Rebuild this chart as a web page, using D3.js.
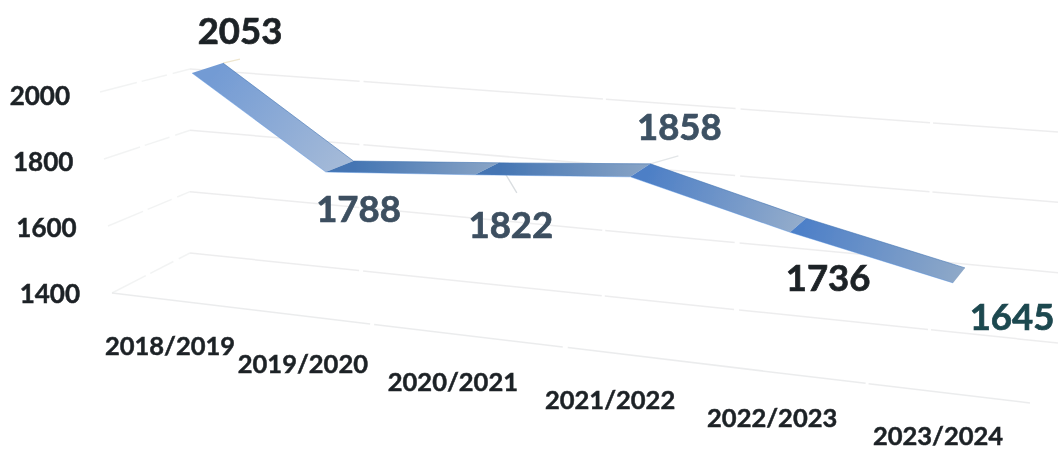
<!DOCTYPE html>
<html>
<head>
<meta charset="utf-8">
<script src="https://cdnjs.cloudflare.com/ajax/libs/d3/7.8.5/d3.min.js"></script>
<style>
html,body{margin:0;padding:0;background:#fff;overflow:hidden}
svg{display:block}
text{font-family:Lato,"Open Sans",sans-serif;font-weight:700}
</style>
</head>
<body>
<svg id="chart" width="1058" height="452"></svg>
<script>
const categories = ["2018/2019","2019/2020","2020/2021","2021/2022","2022/2023","2023/2024"];
const values = [2053,1788,1822,1858,1736,1645];
const yTicks = [1400,1600,1800,2000];
const valueColors = ["#1f2327","#3c4f60","#3c4f60","#3d5163","#1f2327","#1f4850"];

const svg = d3.select("#chart");
const defs = svg.append("defs");
defs.append("filter").attr("id","soft").append("feGaussianBlur").attr("stdDeviation",0.5);
defs.append("filter").attr("id","softText").append("feGaussianBlur").attr("stdDeviation",0.3);

const idx = d3.range(categories.length);
const vDomain = [1400,2000];

// Back wall: value -> y at the left and right ends of the receding plane
const wallX = [190,1058];
const wallLeftY = d3.scaleLinear().domain(vDomain).range([253,69]);
const wallRightY = d3.scaleLinear().domain(vDomain).range([343,132]);
const wallT = d3.scaleLinear().domain(wallX).range([0,1]);
const wallY = (x,v) => d3.interpolateNumber(wallLeftY(v),wallRightY(v))(wallT(x));

// Front of the floor and left side wall
const sideY = d3.scaleLinear().domain(vDomain).range([293,92]);
const sideX = d3.scaleLinear().domain(vDomain).range([112,100]);

// Ribbon edges: perspective spacing along the category axis
const ribbonBackX = d3.scalePow().exponent(1.08).domain([0,5]).range([223,965]);
const ribbonFrontX = d3.scalePow().exponent(1.08).domain([0,5]).range([192,953]);
const backLift = d3.scaleLinear().domain([223,357,802,965]).range([8,13.5,15,19.5]);
const depthDrop = d3.scaleLinear().domain([0,5]).range([10,15]);
const back = i => { const x = ribbonBackX(i); return [x, wallY(x,values[i]) + backLift(x)]; };
const front = i => { const b = back(i); return [ribbonFrontX(i), b[1] + depthDrop(i)]; };

const line = d3.line();

// Grid
const grid = svg.append("g").attr("fill","none").attr("stroke","#e8e9ea").attr("stroke-width",1.5);
yTicks.forEach(v => {
  grid.append("path").attr("stroke-opacity",0.8).attr("stroke-dasharray","170 4 240 3 130 5 190 3")
    .attr("d", line([[wallX[0],wallLeftY(v)],[wallX[1],wallRightY(v)]]));
  grid.append("path").attr("stroke-opacity",0.55).attr("stroke-dasharray","38 5 26 6")
    .attr("d", line([[sideX(v),sideY(v)],[wallX[0],wallLeftY(v)]]));
});
grid.append("path").attr("stroke-opacity",0.85).attr("stroke-dasharray","260 4 190 5 300 3")
  .attr("d", line([[sideX(1400),sideY(1400)],[1030,403]]));

// Leader ticks
const leaders = [[0,17,-4,"#efe6cf"],[3,28,-8,"#e3e6e8"],[2,18,30,"#d9dde0"]];
svg.append("g").selectAll("path").data(leaders).join("path")
  .attr("fill","none").attr("stroke",d=>d[3]).attr("stroke-width",1.3)
  .attr("d",d=>{const p=back(d[0]);return line([p,[p[0]+d[1],p[1]+d[2]]]);});

// Ribbon
const segStart = ["#739bd4","#4475b3","#4475b3","#4d7fc6","#4e80c8"];
const segEnd = ["#a6bbd8","#8aa5c6","#8aa5c6","#95adcb","#8fa9c8"];
const ribbon = svg.append("g").attr("filter","url(#soft)");
idx.slice(0,-1).forEach(i => {
  const id = "seg"+i, a = front(i), b = back(i), c = back(i+1), d = front(i+1);
  const g = defs.append("linearGradient").attr("id",id).attr("gradientUnits","userSpaceOnUse")
    .attr("x1",b[0]).attr("y1",b[1]).attr("x2",c[0]).attr("y2",c[1]);
  g.append("stop").attr("offset",0).attr("stop-color",segStart[i]);
  g.append("stop").attr("offset",1).attr("stop-color",segEnd[i]);
  ribbon.append("path").attr("fill",`url(#${id})`).attr("d", line([a,b,c,d])+"Z");
  ribbon.append("path").attr("fill","none").attr("stroke","#3d6fae").attr("stroke-opacity",0.55).attr("stroke-width",1)
    .attr("d", line([b,c]));
  ribbon.append("path").attr("fill","none").attr("stroke","#4f8fe0").attr("stroke-opacity",0.4).attr("stroke-width",1)
    .attr("d", line([a,d]));
});

// Value labels
const labelOffsets = [[17,-19],[5,61],[12,75],[29,-24],[22,73],[47,62]];
svg.append("g").attr("filter","url(#softText)").selectAll("text").data(idx).join("text")
  .attr("x",i=>back(i)[0]+labelOffsets[i][0])
  .attr("y",i=>back(i)[1]+labelOffsets[i][1])
  .attr("text-anchor","middle").attr("font-size",36.5)
  .attr("fill",i=>valueColors[i]).attr("stroke",i=>valueColors[i]).attr("stroke-width",0.7)
  .text(i=>values[i]);

// Value axis labels
const tickY = d3.scaleLinear().domain(vDomain).range([294,96]);
const tickX = d3.scaleLinear().domain(vDomain).range([80,70]);
svg.append("g").attr("filter","url(#softText)").selectAll("text").data(yTicks).join("text")
  .attr("x",v=>tickX(v)).attr("y",v=>tickY(v)).attr("dy","0.35em")
  .attr("text-anchor","end").attr("font-size",26)
  .attr("fill","#1f2327").attr("stroke","#1f2327").attr("stroke-width",0.5).text(v=>v);

// Category labels
const catX = d3.scalePow().exponent(1.09).domain([0,5]).range([170,938]);
const catY = d3.scaleLinear().domain([0,5]).range([346,436]);
svg.append("g").attr("filter","url(#softText)").selectAll("text").data(idx).join("text")
  .attr("x",i=>catX(i)).attr("y",i=>catY(i)).attr("dy","0.35em")
  .attr("text-anchor","middle").attr("font-size",25.5)
  .attr("fill","#1f2327").attr("stroke","#1f2327").attr("stroke-width",0.5).text(i=>categories[i]);
</script>
</body>
</html>
